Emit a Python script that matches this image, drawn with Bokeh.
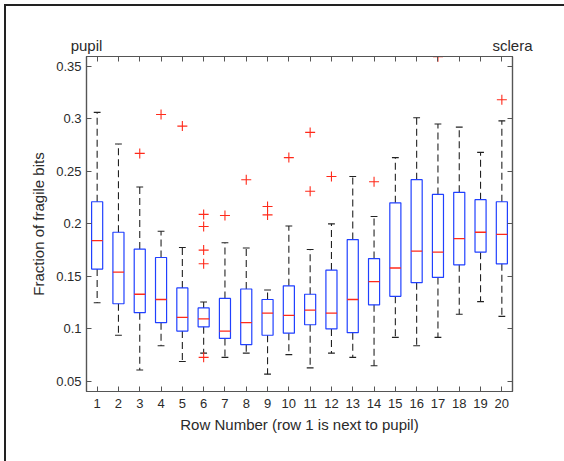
import numpy as np
from bokeh.plotting import figure
from bokeh.models import Range1d, FixedTicker, LinearAxis, InlineStyleSheet
from bokeh.embed import file_html
from bokeh.resources import INLINE

rows = list(range(1, 21))
q3 = [0.221, 0.192, 0.176, 0.168, 0.139, 0.120, 0.129, 0.138, 0.128, 0.141,
      0.133, 0.156, 0.185, 0.167, 0.220, 0.242, 0.228, 0.230, 0.223, 0.221]
med = [0.184, 0.154, 0.133, 0.128, 0.111, 0.1095, 0.098, 0.106, 0.115, 0.113,
       0.118, 0.115, 0.128, 0.145, 0.158, 0.174, 0.173, 0.186, 0.192, 0.190]
q1 = [0.157, 0.124, 0.1155, 0.106, 0.098, 0.102, 0.091, 0.085, 0.094, 0.096,
      0.104, 0.100, 0.0965, 0.123, 0.131, 0.144, 0.149, 0.161, 0.173, 0.162]
whisk_hi = [0.306, 0.276, 0.235, 0.193, 0.1775, 0.1256, 0.182, 0.177, 0.137, 0.198,
            0.1756, 0.200, 0.245, 0.207, 0.263, 0.301, 0.295, 0.292, 0.268, 0.298]
whisk_lo = [0.125, 0.094, 0.061, 0.084, 0.069, 0.077, 0.073, 0.077, 0.057, 0.0756,
            0.063, 0.077, 0.073, 0.065, 0.092, 0.084, 0.092, 0.114, 0.126, 0.112]
out_rows = [3, 4, 5, 6, 6, 6, 6, 6, 7, 8, 9, 9, 10, 11, 11, 12, 14, 17, 20]
out_vals = [0.267, 0.304, 0.293, 0.209, 0.1975, 0.175, 0.162, 0.073, 0.208, 0.242,
            0.2165, 0.2085, 0.263, 0.287, 0.231, 0.245, 0.240, 0.359, 0.318]

y_ticks = [0.05, 0.1, 0.15, 0.2, 0.25, 0.3, 0.35]
y_labels = ["0.05", "0.1", "0.15", "0.2", "0.25", "0.3", "0.35"]
x_label = "Row Number (row 1 is next to pupil)"
y_label = "Fraction of fragile bits"
end_labels = {0.5: "pupil", 20.5: "sclera"}

FONT = "Liberation Sans"
TXT = "#2a2a2a"
AX = "#555555"
BLUE = "#2040ff"
RED = "#ff2a1a"

W, H = 564, 461
p = figure(width=W, height=H, x_range=Range1d(0.5, 20.5), y_range=Range1d(0.0405, 0.3592),
           output_backend="svg", toolbar_location=None,
           min_border_left=86, min_border_right=52, min_border_top=56, min_border_bottom=70)
p.grid.visible = False
p.outline_line_color = AX
p.outline_line_width = 1.2
p.background_fill_color = "white"
p.border_fill_color = "white"
p.stylesheets = [InlineStyleSheet(css=(
    ":host { position: relative; }"
    ":host::after { content: ''; position: absolute; left: 4px; top: 4px; right: 0; bottom: 0;"
    " border-left: 2px solid #222; border-top: 2px solid #222; pointer-events: none; z-index: 100; }"))]

x = np.array(rows, dtype=float)
hw = 0.26
cw = 0.16

# whiskers
p.segment(x, np.array(q3), x, np.array(whisk_hi), line_color="#222222", line_width=1.1, line_dash="7 4")
p.segment(x, np.array(q1), x, np.array(whisk_lo), line_color="#222222", line_width=1.1, line_dash="7 4")
# caps
p.segment(x - cw, np.array(whisk_hi), x + cw, np.array(whisk_hi), line_color="#222222", line_width=1.1)
p.segment(x - cw, np.array(whisk_lo), x + cw, np.array(whisk_lo), line_color="#222222", line_width=1.1)
# boxes
p.quad(left=x - hw, right=x + hw, bottom=np.array(q1), top=np.array(q3),
       fill_color=None, line_color=BLUE, line_width=1.2)
# medians
p.segment(x - hw, np.array(med), x + hw, np.array(med), line_color=RED, line_width=1.3)
# outliers
p.scatter(np.array(out_rows, dtype=float), np.array(out_vals), marker="cross", size=10,
          line_color=RED, line_width=1.1)

def style_axis(ax):
    ax.axis_line_color = AX
    ax.axis_line_width = 1.2
    ax.major_tick_line_color = AX
    ax.major_tick_in = 5
    ax.major_tick_out = 0
    ax.minor_tick_line_color = None
    ax.major_label_text_font = FONT
    ax.major_label_text_font_size = "13px"
    ax.major_label_text_color = TXT
    ax.axis_label_text_font = FONT
    ax.axis_label_text_font_size = "15px"
    ax.axis_label_text_color = TXT
    ax.axis_label_text_font_style = "normal"

xa = p.xaxis[0]
xa.ticker = FixedTicker(ticks=rows)
xa.axis_label = x_label
style_axis(xa)
xa.major_label_standoff = 7
xa.axis_label_standoff = 5

ya = p.yaxis[0]
ya.ticker = FixedTicker(ticks=y_ticks)
ya.major_label_overrides = {t: l for t, l in zip(y_ticks, y_labels)}
ya.axis_label = y_label
style_axis(ya)
ya.major_label_standoff = 5
ya.axis_label_standoff = 6

top_ticks = sorted(list(end_labels.keys()) + rows)
top = LinearAxis(ticker=FixedTicker(ticks=top_ticks),
                 major_label_overrides={t: end_labels.get(t, "") for t in top_ticks})
style_axis(top)
top.major_label_text_font_size = "15px"
top.major_label_standoff = 3
p.add_layout(top, "above")

right = LinearAxis(ticker=FixedTicker(ticks=y_ticks), major_label_overrides={t: "" for t in y_ticks})
style_axis(right)
p.add_layout(right, "right")

open("out.html", "w").write(file_html(p, INLINE))
